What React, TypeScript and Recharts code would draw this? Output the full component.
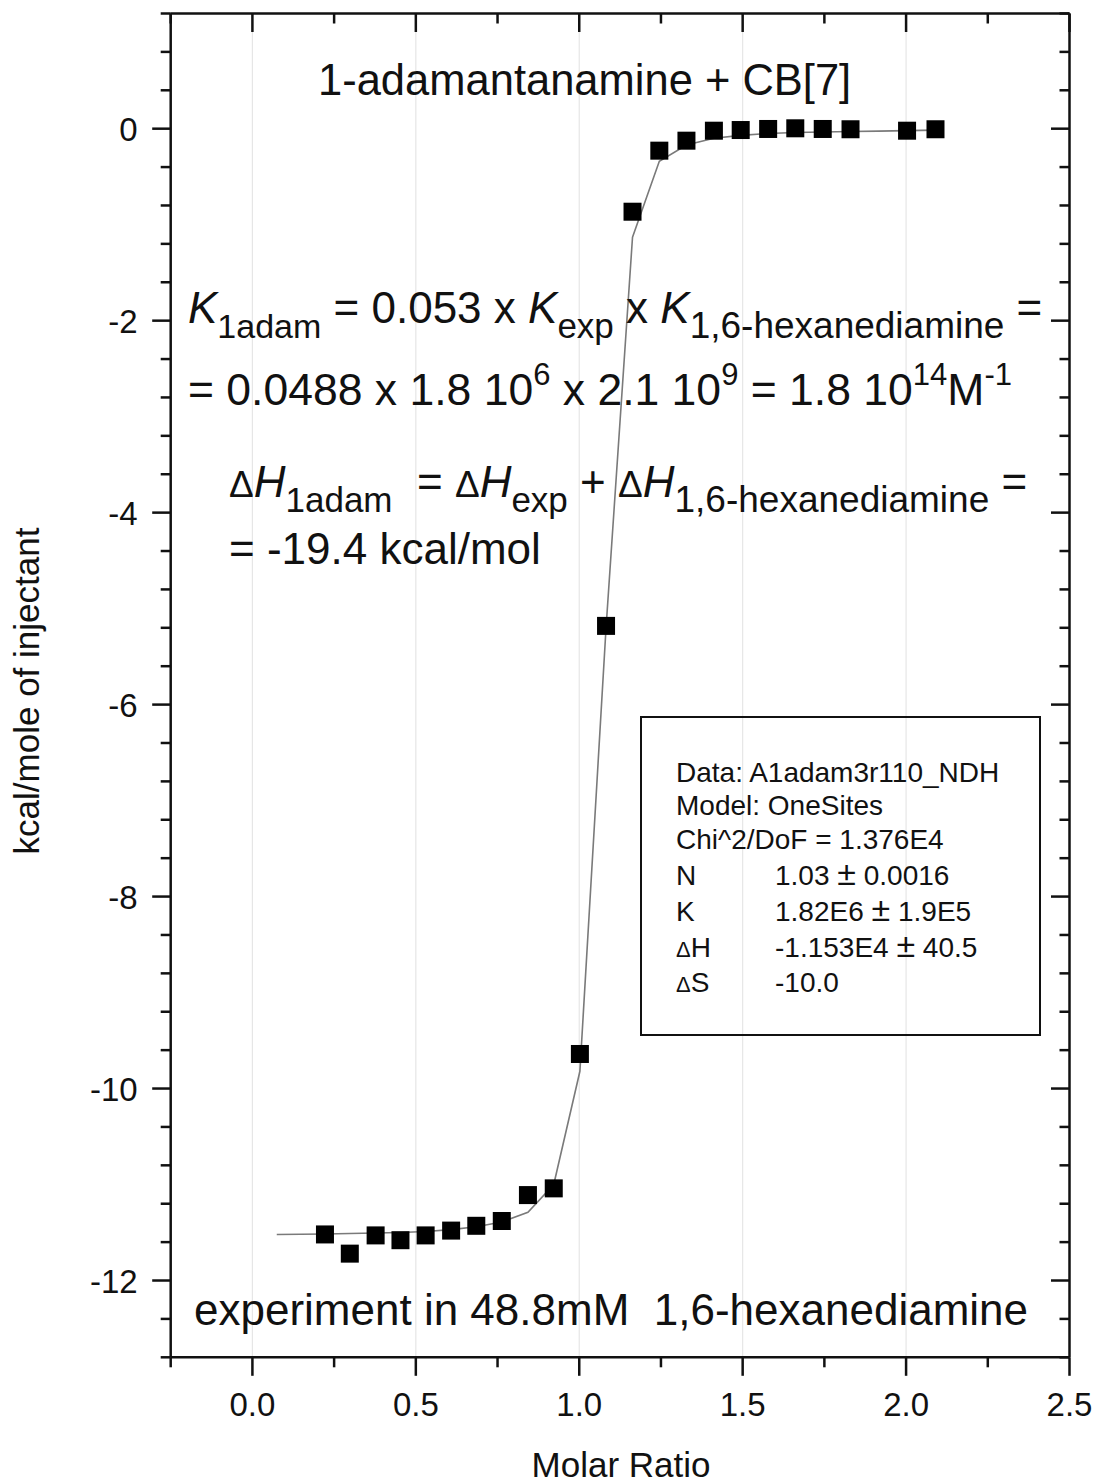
import { ComposedChart, XAxis, YAxis, Scatter, Line, ReferenceLine } from "recharts";

// injections (molar ratio) and integrated heats, kcal/mol of injectant
const molarRatio = [0.222, 0.298, 0.377, 0.453, 0.53, 0.608, 0.685, 0.763, 0.843, 0.922, 1.002, 1.082, 1.163, 1.245, 1.328, 1.412, 1.494, 1.578, 1.661, 1.745, 1.83, 2.003, 2.09];
const heat = [-11.52, -11.72, -11.53, -11.58, -11.53, -11.48, -11.43, -11.38, -11.11, -11.04, -9.64, -5.18, -0.865, -0.229, -0.125, -0.021, -0.014, -0.003, 0.004, -0.003, -0.006, -0.021, -0.006];

// OneSites fit curve
const fitX = [0.0745, 0.222, 0.298, 0.377, 0.453, 0.53, 0.608, 0.685, 0.763, 0.843, 0.922, 1.002, 1.082, 1.163, 1.245, 1.328, 1.412, 1.494, 1.578, 1.661, 1.745, 1.83, 1.915, 2.003, 2.09];
const fitY = [-11.52, -11.515, -11.51, -11.505, -11.5, -11.49, -11.47, -11.44, -11.39, -11.29, -11.0, -9.82, -5.2, -1.13, -0.34, -0.17, -0.1, -0.07, -0.05, -0.04, -0.035, -0.03, -0.025, -0.02, -0.015];

const xMajor = [0, 0.5, 1, 1.5, 2, 2.5];
const xTicks = [-0.25, 0, 0.25, 0.5, 0.75, 1, 1.25, 1.5, 1.75, 2, 2.25, 2.5];
const xLabels = ["0.0", "0.5", "1.0", "1.5", "2.0", "2.5"];
const yMajor = [0, -2, -4, -6, -8, -10, -12];
const yTicks = [1.2, 0.8, 0.4, 0, -0.4, -0.8, -1.2, -1.6, -2, -2.4, -2.8, -3.2, -3.6, -4, -4.4, -4.8, -5.2, -5.6, -6, -6.4, -6.8, -7.2, -7.6, -8, -8.4, -8.8, -9.2, -9.6, -10, -10.4, -10.8, -11.2, -11.6, -12, -12.4, -12.8];
const yLabels = ["0", "-2", "-4", "-6", "-8", "-10", "-12"];
const gridX = [0, 0.5, 1, 1.5, 2];

const points = molarRatio.map((x, i) => ({ x, y: heat[i] }));
const fit = fitX.map((x, i) => ({ x, y: fitY[i] }));

const FONT = '"Liberation Sans", Arial, Helvetica, sans-serif';
const AXIS = "#111";

const makeTick = (side: "bottom" | "top" | "left" | "right") => (p: any) => {
  const v = p.payload.value;
  const xs = side === "bottom" || side === "top";
  const majors = xs ? xMajor : yMajor;
  const idx = majors.findIndex((m) => Math.abs(m - v) < 1e-6);
  const len = idx >= 0 ? 18.5 : 10;
  const { x, y } = p;
  const line = xs
    ? <line x1={x} y1={y} x2={x} y2={y + len} />
    : <line x1={x - len} y1={y} x2={x} y2={y} />;
  return (
    <g stroke={AXIS} strokeWidth={2.5}>
      {line}
      {idx >= 0 && side === "bottom" && (
        <text x={x} y={y + 59} textAnchor="middle" stroke="none" fill="#111" fontSize={33} fontFamily={FONT}>
          {xLabels[idx]}
        </text>
      )}
      {idx >= 0 && side === "left" && (
        <text x={x - 33} y={y + 12} textAnchor="end" stroke="none" fill="#111" fontSize={33} fontFamily={FONT}>
          {yLabels[idx]}
        </text>
      )}
    </g>
  );
};

const Sq = (p: any) => <rect x={p.cx - 9} y={p.cy - 9} width={18} height={18} fill="#000" />;

const it = { fontStyle: "italic" as const };

export default function App() {
  return (
    <div style={{ position: "absolute", left: 0, top: 0, width: 1097, height: 1483, background: "#fff" }}>
      <ComposedChart width={1097} height={1483} margin={{ top: 13.5, right: 27.5, left: 0, bottom: 0 }}>
        <XAxis xAxisId="b" type="number" dataKey="x" domain={[-0.25, 2.5]} ticks={xTicks} interval={0} allowDataOverflow
          height={125.7} tickSize={0} tickMargin={0} tickLine={false} axisLine={{ stroke: AXIS, strokeWidth: 2.5 }} tick={makeTick("bottom")} />
        <XAxis xAxisId="t" orientation="top" mirror type="number" dataKey="x" domain={[-0.25, 2.5]} ticks={xTicks} interval={0} allowDataOverflow
          height={30} tickSize={0} tickMargin={0} tickLine={false} axisLine={{ stroke: AXIS, strokeWidth: 2.5 }} tick={makeTick("top")} />
        <YAxis yAxisId="l" type="number" dataKey="y" domain={[-12.8, 1.2]} ticks={yTicks} interval={0} allowDataOverflow
          width={170.7} tickSize={0} tickMargin={0} tickLine={false} axisLine={{ stroke: AXIS, strokeWidth: 2.5 }} tick={makeTick("left")} />
        <YAxis yAxisId="r" orientation="right" mirror type="number" dataKey="y" domain={[-12.8, 1.2]} ticks={yTicks} interval={0} allowDataOverflow
          width={30} tickSize={0} tickMargin={0} tickLine={false} axisLine={{ stroke: AXIS, strokeWidth: 2.5 }} tick={makeTick("right")} />
        {gridX.map((g) => (
          <ReferenceLine key={g} xAxisId="b" yAxisId="l" x={g} stroke="#e6e6e6" strokeWidth={1.2} />
        ))}
        <Line xAxisId="b" yAxisId="l" data={fit} dataKey="y" type="linear" stroke="#7a7a7a" strokeWidth={1.6} dot={false} isAnimationActive={false} />
        <Scatter xAxisId="b" yAxisId="l" data={points} dataKey="y" fill="#000" shape={Sq} isAnimationActive={false} />
      </ComposedChart>

      <svg width={1097} height={1483} style={{ position: "absolute", left: 0, top: 0, pointerEvents: "none" }} fontFamily={FONT} fill="#111">
        <text x={318} y={95} fontSize={43.5}>1-adamantanamine + CB[7]</text>

        <text x={188} y={323} fontSize={44}>
          <tspan style={it}>K</tspan>
          <tspan fontSize={34} dy={15}>1adam</tspan>
          <tspan dy={-15}> = 0.053 x </tspan>
          <tspan style={it}>K</tspan>
          <tspan fontSize={35} dy={15}>exp</tspan>
          <tspan dy={-15}> x </tspan>
          <tspan style={it}>K</tspan>
          <tspan fontSize={37} dy={15}>1,6-hexanediamine</tspan>
          <tspan dy={-15}> =</tspan>
        </text>
        <text x={188} y={405} fontSize={44.5}>
          <tspan>= 0.0488 x 1.8 10</tspan>
          <tspan fontSize={31} dy={-20}>6</tspan>
          <tspan dy={20}> x 2.1 10</tspan>
          <tspan fontSize={31} dy={-20}>9</tspan>
          <tspan dy={20}> = 1.8 10</tspan>
          <tspan fontSize={31} dy={-20}>14</tspan>
          <tspan dy={20}>M</tspan>
          <tspan fontSize={31} dy={-20}>-1</tspan>
        </text>
        <text x={229} y={497} fontSize={44} style={{ whiteSpace: "pre" }}>
          <tspan fontSize={37}>Δ</tspan>
          <tspan style={it}>H</tspan>
          <tspan fontSize={35} dy={15}>1adam</tspan>
          <tspan dy={-15}>  = </tspan>
          <tspan fontSize={37}>Δ</tspan>
          <tspan style={it}>H</tspan>
          <tspan fontSize={35} dy={15}>exp</tspan>
          <tspan dy={-15}> + </tspan>
          <tspan fontSize={37}>Δ</tspan>
          <tspan style={it}>H</tspan>
          <tspan fontSize={37} dy={15}>1,6-hexanediamine</tspan>
          <tspan dy={-15}> =</tspan>
        </text>
        <text x={229} y={564} fontSize={44}>= -19.4 kcal/mol</text>

        <text x={194} y={1325} fontSize={44} style={{ whiteSpace: "pre" }}>experiment in 48.8mM  1,6-hexanediamine</text>

        <rect x={641} y={717} width={399} height={318} fill="none" stroke="#111" strokeWidth={2} />
        <g fontSize={28}>
          <text x={676} y={782}>Data: A1adam3r110_NDH</text>
          <text x={676} y={815}>Model: OneSites</text>
          <text x={676} y={849}>Chi^2/DoF = 1.376E4</text>
          <text x={676} y={885}>N</text>
          <text x={775} y={885}>1.03 <tspan fontSize={34}>±</tspan> 0.0016</text>
          <text x={676} y={921}>K</text>
          <text x={775} y={921}>1.82E6 <tspan fontSize={34}>±</tspan> 1.9E5</text>
          <text x={676} y={957}><tspan fontSize={22}>Δ</tspan>H</text>
          <text x={775} y={957}>-1.153E4 <tspan fontSize={34}>±</tspan> 40.5</text>
          <text x={676} y={992}><tspan fontSize={22}>Δ</tspan>S</text>
          <text x={775} y={992}>-10.0</text>
        </g>

        <text x={621} y={1477} fontSize={35} textAnchor="middle">Molar Ratio</text>
        <text transform="translate(39 691) rotate(-90)" fontSize={35} textAnchor="middle">kcal/mole of injectant</text>
      </svg>
    </div>
  );
}
